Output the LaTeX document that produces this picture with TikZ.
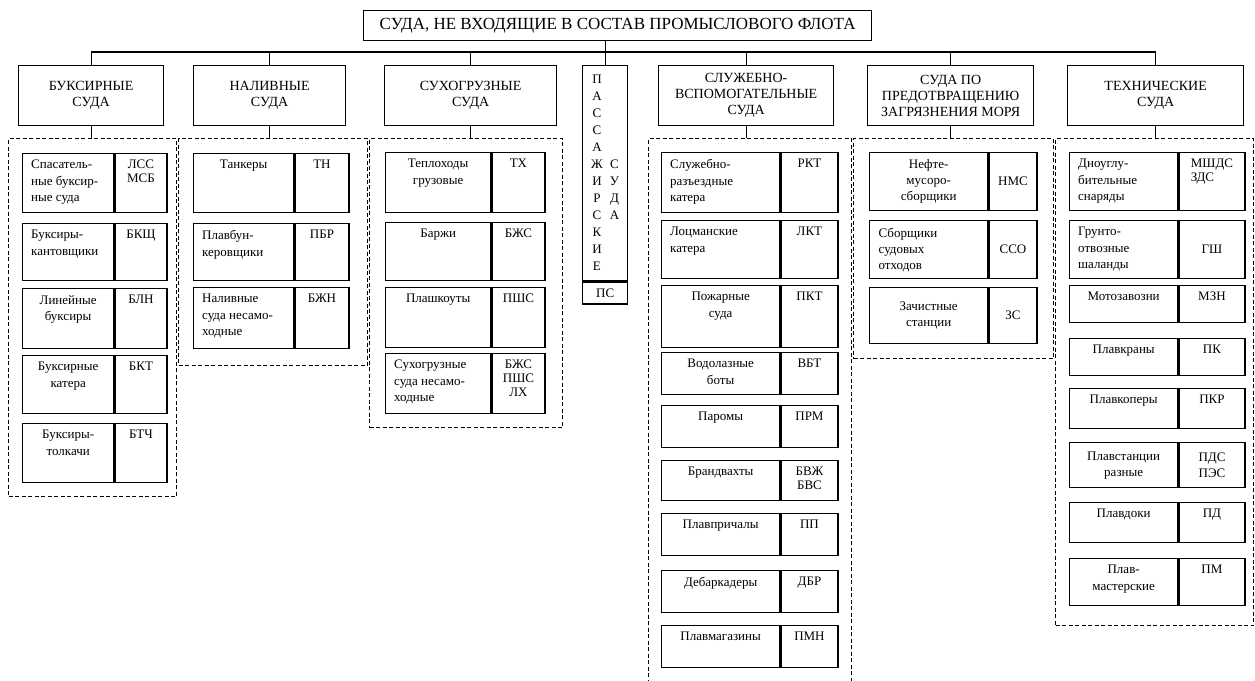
\documentclass[tikz,border=0pt]{standalone}
\usepackage{fontspec}
\setmainfont{Liberation Serif}

\begin{document}
\begin{tikzpicture}[x=1pt, y=-1pt,
rootbox/.style={draw, line width=1.3pt, anchor=north west, minimum width=508, minimum height=30, inner sep=0pt, font=\fontsize{17}{19}\selectfont},
grpbox/.style={draw, line width=1.3pt, anchor=north west, minimum height=60, inner sep=1pt, align=center, font=\fontsize{14}{16}\selectfont},
pasbox/.style={draw, line width=1.3pt, anchor=north west, inner sep=0pt, font=\fontsize{13}{17}\selectfont},
grpframe/.style={draw, line width=1.1pt, dash pattern=on 4pt off 2.5pt, anchor=north west, inner sep=0pt},
cell/.style={draw, line width=1.3pt, anchor=north west, inner sep=0pt, align=center, font=\fontsize{13}{16}\selectfont},
toptext/.style={anchor=north, inner sep=7pt, align=center, font=\fontsize{13}{16.5}\selectfont},
lefttext/.style={anchor=north west, inner xsep=9pt, inner ysep=7pt, align=left, font=\fontsize{13}{16.5}\selectfont},
codetext/.style={anchor=north, inner sep=7pt, align=center, font=\fontsize{13}{14}\selectfont},
link/.style={line width=1.3pt} ]

\useasboundingbox (0,0) rectangle (1255,680);
\fill[white] (0,0) rectangle (1255,680);

\node[rootbox] (root) at (363,10) {СУДА, НЕ ВХОДЯЩИЕ В СОСТАВ ПРОМЫСЛОВОГО ФЛОТА};

\node[grpbox, minimum width=145] (tug) at (18,65) {БУКСИРНЫЕ\\СУДА};
\node[grpbox, minimum width=152] (tank) at (193,65) {НАЛИВНЫЕ\\СУДА};
\node[grpbox, minimum width=172] (dry) at (384,65) {СУХОГРУЗНЫЕ\\СУДА};
\node[pasbox, minimum width=45, minimum height=215] (pas) at (582,65) {\begin{tabular}{@{}c@{\hspace{7pt}}c@{}}П&\\А&\\С&\\С&\\А&\\Ж&С\\И&У\\Р&Д\\С&А\\К&\\И&\\Е&\end{tabular}};
\node[cell, minimum width=45, minimum height=22] (pascode) at (pas.south west) {ПС};
\node[grpbox, minimum width=175] (aux) at (658,65) {СЛУЖЕБНО-\\ВСПОМОГАТЕЛЬНЫЕ\\СУДА};
\node[grpbox, minimum width=166] (clean) at (867,65) {СУДА ПО\\ПРЕДОТВРАЩЕНИЮ\\ЗАГРЯЗНЕНИЯ МОРЯ};
\node[grpbox, minimum width=176] (tech) at (1067,65) {ТЕХНИЧЕСКИЕ\\СУДА};

\coordinate (bus) at (0,52);
\draw[link] (tug.north) |- (tech.north |- bus) -- (tech.north);
\draw[link] (tank.north) -- (tank.north |- bus);
\draw[link] (dry.north) -- (dry.north |- bus);
\draw[link] (aux.north) -- (aux.north |- bus);
\draw[link] (clean.north) -- (clean.north |- bus);
\draw[link] (pas.north) -- (pas.north |- root.south);

\node[grpframe, minimum width=168, minimum height=358] (ftug) at (8,138) {};
\node[grpframe, minimum width=189, minimum height=227] (ftank) at (178,138) {};
\node[grpframe, minimum width=193, minimum height=289] (fdry) at (369,138) {};
\node[grpframe, minimum width=203, minimum height=600] (faux) at (648,138) {};
\node[grpframe, minimum width=200, minimum height=220] (fclean) at (853,138) {};
\node[grpframe, minimum width=198, minimum height=487] (ftech) at (1055,138) {};

\draw[link] (tug.south) -- (tug.south |- ftug.north);
\draw[link] (tank.south) -- (tank.south |- ftank.north);
\draw[link] (dry.south) -- (dry.south |- fdry.north);
\draw[link] (aux.south) -- (aux.south |- faux.north);
\draw[link] (clean.south) -- (clean.south |- fclean.north);
\draw[link] (tech.south) -- (tech.south |- ftech.north);

% буксирные
\node[cell, minimum width=91, minimum height=59, label={[lefttext]north west:{Спасатель-\\ные буксир-\\ные суда}}] (tug1) at (22,153) {};
\node[cell, minimum width=52, minimum height=59, label={[codetext]north:{ЛСС\\МСБ}}] (tug1c) at (tug1.north east) {};
\node[cell, minimum width=91, minimum height=57, label={[lefttext]north west:{Буксиры-\\кантовщики}}] (tug2) at (22,223) {};
\node[cell, minimum width=52, minimum height=57, label={[codetext]north:БКЩ}] (tug2c) at (tug2.north east) {};
\node[cell, minimum width=91, minimum height=60, label={[toptext]north:{Линейные\\буксиры}}] (tug3) at (22,288) {};
\node[cell, minimum width=52, minimum height=60, label={[codetext]north:БЛН}] (tug3c) at (tug3.north east) {};
\node[cell, minimum width=91, minimum height=58, label={[toptext]north:{Буксирные\\катера}}] (tug4) at (22,355) {};
\node[cell, minimum width=52, minimum height=58, label={[codetext]north:БКТ}] (tug4c) at (tug4.north east) {};
\node[cell, minimum width=91, minimum height=59, label={[toptext]north:{Буксиры-\\толкачи}}] (tug5) at (22,423) {};
\node[cell, minimum width=52, minimum height=59, label={[codetext]north:БТЧ}] (tug5c) at (tug5.north east) {};

% наливные
\node[cell, minimum width=100, minimum height=59, label={[toptext]north:Танкеры}] (tank1) at (193,153) {};
\node[cell, minimum width=54, minimum height=59, label={[codetext]north:ТН}] (tank1c) at (tank1.north east) {};
\node[cell, minimum width=100, minimum height=57, label={[lefttext]north west:{Плавбун-\\керовщики}}] (tank2) at (193,223) {};
\node[cell, minimum width=54, minimum height=57, label={[codetext]north:ПБР}] (tank2c) at (tank2.north east) {};
\node[cell, minimum width=100, minimum height=61, label={[lefttext]north west:{Наливные\\суда несамо-\\ходные}}] (tank3) at (193,287) {};
\node[cell, minimum width=54, minimum height=61, label={[codetext]north:БЖН}] (tank3c) at (tank3.north east) {};

% сухогрузные
\node[cell, minimum width=105, minimum height=60, label={[toptext]north:{Теплоходы\\грузовые}}] (dry1) at (385,152) {};
\node[cell, minimum width=53, minimum height=60, label={[codetext]north:ТХ}] (dry1c) at (dry1.north east) {};
\node[cell, minimum width=105, minimum height=58, label={[toptext]north:Баржи}] (dry2) at (385,222) {};
\node[cell, minimum width=53, minimum height=58, label={[codetext]north:БЖС}] (dry2c) at (dry2.north east) {};
\node[cell, minimum width=105, minimum height=60, label={[toptext]north:Плашкоуты}] (dry3) at (385,287) {};
\node[cell, minimum width=53, minimum height=60, label={[codetext]north:ПШС}] (dry3c) at (dry3.north east) {};
\node[cell, minimum width=105, minimum height=60, label={[lefttext]north west:{Сухогрузные\\суда несамо-\\ходные}}] (dry4) at (385,353) {};
\node[cell, minimum width=53, minimum height=60, label={[codetext]north:{БЖС\\ПШС\\ЛХ}}] (dry4c) at (dry4.north east) {};

% служебно-вспомогательные
\node[cell, minimum width=118, minimum height=60, label={[lefttext]north west:{Служебно-\\разъездные\\катера}}] (aux1) at (661,152) {};
\node[cell, minimum width=57, minimum height=60, label={[codetext]north:РКТ}] (aux1c) at (aux1.north east) {};
\node[cell, minimum width=118, minimum height=58, label={[lefttext]north west:{Лоцманские\\катера}}] (aux2) at (661,220) {};
\node[cell, minimum width=57, minimum height=58, label={[codetext]north:ЛКТ}] (aux2c) at (aux2.north east) {};
\node[cell, minimum width=118, minimum height=62, label={[toptext]north:{Пожарные\\суда}}] (aux3) at (661,285) {};
\node[cell, minimum width=57, minimum height=62, label={[codetext]north:ПКТ}] (aux3c) at (aux3.north east) {};
\node[cell, minimum width=118, minimum height=42, label={[toptext]north:{Водолазные\\боты}}] (aux4) at (661,352) {};
\node[cell, minimum width=57, minimum height=42, label={[codetext]north:ВБТ}] (aux4c) at (aux4.north east) {};
\node[cell, minimum width=118, minimum height=42, label={[toptext]north:Паромы}] (aux5) at (661,405) {};
\node[cell, minimum width=57, minimum height=42, label={[codetext]north:ПРМ}] (aux5c) at (aux5.north east) {};
\node[cell, minimum width=118, minimum height=40, label={[toptext]north:Брандвахты}] (aux6) at (661,460) {};
\node[cell, minimum width=57, minimum height=40, label={[codetext]north:{БВЖ\\БВС}}] (aux6c) at (aux6.north east) {};
\node[cell, minimum width=118, minimum height=42, label={[toptext]north:Плавпричалы}] (aux7) at (661,513) {};
\node[cell, minimum width=57, minimum height=42, label={[codetext]north:ПП}] (aux7c) at (aux7.north east) {};
\node[cell, minimum width=118, minimum height=42, label={[toptext]north:Дебаркадеры}] (aux8) at (661,570) {};
\node[cell, minimum width=57, minimum height=42, label={[codetext]north:ДБР}] (aux8c) at (aux8.north east) {};
\node[cell, minimum width=118, minimum height=42, label={[toptext]north:Плавмагазины}] (aux9) at (661,625) {};
\node[cell, minimum width=57, minimum height=42, label={[codetext]north:ПМН}] (aux9c) at (aux9.north east) {};

% по предотвращению загрязнения
\node[cell, minimum width=118, minimum height=58] (cln1) at (869,152) {Нефте-\\мусоро-\\сборщики};
\node[cell, minimum width=48, minimum height=58] (cln1c) at (cln1.north east) {НМС};
\node[cell, minimum width=118, minimum height=58, text width=100, align=left] (cln2) at (869,220) {Сборщики\\судовых\\отходов};
\node[cell, minimum width=48, minimum height=58] (cln2c) at (cln2.north east) {ССО};
\node[cell, minimum width=118, minimum height=56] (cln3) at (869,287) {Зачистные\\станции};
\node[cell, minimum width=48, minimum height=56] (cln3c) at (cln3.north east) {ЗС};

% технические
\node[cell, minimum width=108, minimum height=58, label={[lefttext]north west:{Дноуглу-\\бительные\\снаряды}}] (tech1) at (1069,152) {};
\node[cell, minimum width=66, minimum height=58, label={[codetext, align=left]north:{МШДС\\ЗДС}}] (tech1c) at (tech1.north east) {};
\node[cell, minimum width=108, minimum height=58, label={[lefttext]north west:{Грунто-\\отвозные\\шаланды}}] (tech2) at (1069,220) {};
\node[cell, minimum width=66, minimum height=58] (tech2c) at (tech2.north east) {ГШ};
\node[cell, minimum width=108, minimum height=37, label={[toptext]north:Мотозавозни}] (tech3) at (1069,285) {};
\node[cell, minimum width=66, minimum height=37, label={[codetext]north:МЗН}] (tech3c) at (tech3.north east) {};
\node[cell, minimum width=108, minimum height=37, label={[toptext]north:Плавкраны}] (tech4) at (1069,338) {};
\node[cell, minimum width=66, minimum height=37, label={[codetext]north:ПК}] (tech4c) at (tech4.north east) {};
\node[cell, minimum width=108, minimum height=40, label={[toptext]north:Плавкоперы}] (tech5) at (1069,388) {};
\node[cell, minimum width=66, minimum height=40, label={[codetext]north:ПКР}] (tech5c) at (tech5.north east) {};
\node[cell, minimum width=108, minimum height=45] (tech6) at (1069,442) {Плавстанции\\разные};
\node[cell, minimum width=66, minimum height=45] (tech6c) at (tech6.north east) {ПДС\\ПЭС};
\node[cell, minimum width=108, minimum height=40, label={[toptext]north:Плавдоки}] (tech7) at (1069,502) {};
\node[cell, minimum width=66, minimum height=40, label={[codetext]north:ПД}] (tech7c) at (tech7.north east) {};
\node[cell, minimum width=108, minimum height=47, label={[toptext]north:{Плав-\\мастерские}}] (tech8) at (1069,558) {};
\node[cell, minimum width=66, minimum height=47, label={[codetext]north:ПМ}] (tech8c) at (tech8.north east) {};

\end{tikzpicture}
\end{document}
